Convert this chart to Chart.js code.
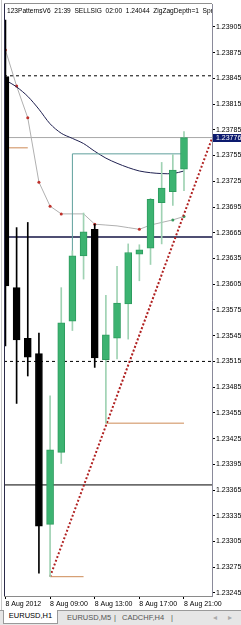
<!DOCTYPE html>
<html>
<head>
<meta charset="utf-8">
<script src="https://cdn.jsdelivr.net/npm/chart.js@4.4.1/dist/chart.umd.min.js"></script>
<style>
  html, body { margin: 0; padding: 0; background: #fff; }
  body { width: 241px; height: 625px; overflow: hidden; font-family: "Liberation Sans", Arial, sans-serif; }
  #wrap { position: relative; width: 241px; height: 610px; }
  #tabs { position: relative; width: 241px; height: 15px; background: #e6e6e6; border-top: 1px solid #9a9a9a; box-sizing: border-box; font-size: 7.5px; }
  #tabs span { position: absolute; top: 2px; color: #555; }
  #tabs .active { top: -1px; left: 3px; width: 55px; height: 14px; background: #fff; border: 1px solid #9a9a9a; border-top: none; box-sizing: border-box; color: #000; text-align: center; line-height: 12px; }
</style>
</head>
<body>
<div id="wrap"><canvas id="chart" width="241" height="610"></canvas></div>
<div id="tabs">
  <span class="active">EURUSD,H1</span>
  <span style="left:67px">EURUSD,M5</span>
  <span style="left:114px">|</span>
  <span style="left:122px">CADCHF,H4</span>
  <span style="left:171px">|</span>
  <span style="left:213px;color:#aaa">&#9666;</span>
  <span style="left:228px;color:#aaa">&#9656;</span>
</div>
<script>
// EURUSD H1, 8 Aug 2012, 05:00 .. 21:00
const hours = ["05:00","06:00","07:00","08:00","09:00","10:00","11:00","12:00","13:00",
               "14:00","15:00","16:00","17:00","18:00","19:00","20:00","21:00"];
const opens  = [1.23847, 1.23601, 1.23542, 1.23524, 1.23325, 1.23409, 1.23562, 1.23638, 1.23669,
                1.23517, 1.23542, 1.23582, 1.23640, 1.23647, 1.23700, 1.23713, 1.23739];
const highs  = [1.23913, 1.23671, 1.23677, 1.23548, 1.23475, 1.23601, 1.23644, 1.23688, 1.23675,
                1.23592, 1.23626, 1.23652, 1.23651, 1.23705, 1.23747, 1.23756, 1.23783];
const lows   = [1.23533, 1.23466, 1.23498, 1.23268, 1.23264, 1.23396, 1.23551, 1.23611, 1.23508,
                1.23443, 1.23518, 1.23541, 1.23609, 1.23628, 1.23652, 1.23697, 1.23714];
const closes = [1.23603, 1.23540, 1.23520, 1.23323, 1.23412, 1.23560, 1.23638, 1.23666, 1.23519,
                1.23546, 1.23583, 1.23642, 1.23645, 1.23704, 1.23717, 1.23738, 1.23776];

// indicator lines
const slowMa = [1.23843, 1.23835, 1.23824, 1.23809, 1.23792, 1.23781, 1.23775, 1.23769, 1.23760,
                1.23752, 1.23746, 1.23741, 1.23737, 1.23735, 1.23734, 1.23734, 1.23737];
const fastMa = [1.23878, 1.23836, 1.23799, 1.23724, 1.23696, 1.23687, 1.23687, 1.23687, 1.23675,
                1.23674, 1.23673, 1.23671, 1.23669, 1.23674, 1.23677, 1.23680, 1.23684];
const redDots = [0, 1, 2, 3, 4, 5, 8, 12];
const greenDots = [15, 16];

// levels
const dashedLevels = [1.23848, 1.23515];
const navyLevel = 1.23660;
const blackLevel = 1.23371;
const orangeSegs = [[0, 2, 1.23764], [4, 7, 1.23264], [9, 16, 1.23443]];
const patternLine = [[6, 1.23638], [6, 1.23757], [16, 1.23757]];
const trendLine = [[4, 1.23264], [18.51, 1.23775]];

const xTickIdx = [0, 4, 8, 12, 16];
const xTickLabels = ["8 Aug 2012", "8 Aug 09:00", "8 Aug 13:00", "8 Aug 17:00", "8 Aug 21:00"];
const yTicks = [1.23245, 1.23275, 1.23305, 1.23335, 1.23365, 1.23395, 1.23425, 1.23455, 1.23485,
                1.23515, 1.23545, 1.23575, 1.23605, 1.23635, 1.23665, 1.23695, 1.23725, 1.23755,
                1.23785, 1.23815, 1.23845, 1.23875, 1.23905];
const title = "123PatternsV6  21:39  SELLSIG  02:00  1.24044  ZigZagDepth=1  Spr";

const xMin = -0.13, xMax = 18.51;
const yMin = 1.232415, yMax = 1.239317;
const FONT = "Liberation Sans";
const GREEN = "#3cb371";

const idx = hours.map((_, i) => i);
const up = idx.map(i => closes[i] >= opens[i]);

function levelLine(price, color, dash, order, width) {
  return {
    type: "line",
    data: [{ x: xMin, y: price }, { x: xMax, y: price }],
    borderColor: color, borderWidth: width || 1, borderDash: dash || [],
    pointRadius: 0, order: order || 8
  };
}

const datasets = [
  {
    type: "bar",
    data: idx.map(i => ({ x: i, y: [opens[i], closes[i]] })),
    backgroundColor: idx.map(i => up[i] ? GREEN : "#000"),
    borderColor: idx.map(i => up[i] ? "#2e9c5f" : "#000"),
    borderWidth: 1, borderSkipped: false,
    barThickness: 7, grouped: false, order: 1
  },
  {
    type: "bar",
    data: idx.map(i => ({ x: i, y: [lows[i], highs[i]] })),
    backgroundColor: idx.map(i => up[i] ? "#9fd2b3" : "#000"),
    barThickness: 1, grouped: false, order: 2
  },
  levelLine(dashedLevels[0], "#000", [3, 3]),
  levelLine(dashedLevels[1], "#000", [3, 3]),
  levelLine(navyLevel, "#141444", null, 8, 1.5),
  levelLine(blackLevel, "#000"),
  levelLine(closes[closes.length - 1], "#a8a8a8", null, 9),
  {
    type: "line",
    data: idx.map(i => ({ x: i, y: slowMa[i] })),
    borderColor: "#1f2050", borderWidth: 1, pointRadius: 0, tension: 0.3, order: 6
  },
  {
    type: "line",
    data: idx.map(i => ({ x: i, y: fastMa[i] })),
    borderColor: "#b0b0b0", borderWidth: 1,
    pointRadius: idx.map(i => redDots.includes(i) || greenDots.includes(i) ? 1.5 : 0),
    pointBackgroundColor: idx.map(i => greenDots.includes(i) ? "#3a9a60" : "#c0302a"),
    pointBorderWidth: 0, order: 6
  },
  {
    type: "line",
    data: patternLine.map(p => ({ x: p[0], y: p[1] })),
    borderColor: "#5f9f9c", borderWidth: 1, pointRadius: 0, order: 5
  },
  ...orangeSegs.map(s => ({
    type: "line",
    data: [{ x: s[0], y: s[2] }, { x: s[1], y: s[2] }],
    borderColor: "#cd8a55", borderWidth: 1, pointRadius: 0, order: 5
  })),
  {
    type: "line",
    data: trendLine.map(p => ({ x: p[0], y: p[1] })),
    borderColor: "#b02020", borderWidth: 2, borderDash: [2, 2], pointRadius: 0, order: 3
  }
];

const frame = {
  id: "frame",
  afterDraw(chart) {
    const { ctx, chartArea: a, scales } = chart;
    ctx.save();
    ctx.strokeStyle = "#c8c8c8";
    ctx.beginPath(); ctx.moveTo(1.5, 0); ctx.lineTo(1.5, 610); ctx.stroke();
    ctx.strokeStyle = "#2a2a48";
    ctx.beginPath(); ctx.moveTo(a.left + 0.5, a.top); ctx.lineTo(a.left + 0.5, a.bottom); ctx.stroke();
    ctx.strokeStyle = "#909090";
    ctx.beginPath(); ctx.moveTo(a.left, a.top - 0.5); ctx.lineTo(a.right, a.top - 0.5); ctx.stroke();

    // title text, fitted so "Spr" meets the price axis, clipped to the plot
    ctx.save();
    ctx.beginPath(); ctx.rect(a.left, a.top, a.right - a.left, a.bottom - a.top); ctx.clip();
    ctx.fillStyle = "#000";
    ctx.font = "7px '" + FONT + "'";
    const w = ctx.measureText(title).width;
    const size = Math.min(7.5, 7 * (a.right - a.left - 2) / w);
    ctx.font = size.toFixed(2) + "px '" + FONT + "'";
    ctx.textBaseline = "alphabetic";
    ctx.fillText(title, a.left + 3, a.top + 9);
    ctx.restore();

    // current price box
    const last = closes[closes.length - 1];
    const y = Math.round(scales.y.getPixelForValue(last));
    ctx.fillStyle = "#0c1a6e";
    ctx.fillRect(a.right + 1, y - 4, 28, 8);
    ctx.fillStyle = "#fff";
    ctx.font = "7px '" + FONT + "'";
    ctx.textBaseline = "middle";
    ctx.fillText(last.toFixed(5), a.right + 4, y + 0.5);
    ctx.restore();
  }
};

new Chart(document.getElementById("chart"), {
  type: "bar",
  data: { datasets },
  options: {
    responsive: false,
    animation: false,
    devicePixelRatio: 1,
    layout: { padding: { left: 4, top: 2, right: 0, bottom: 0 } },
    plugins: { legend: { display: false }, tooltip: { enabled: false } },
    scales: {
      x: {
        type: "linear", min: xMin, max: xMax, offset: false,
        grid: { drawOnChartArea: false, tickLength: 3, color: "#000", offset: false },
        border: { display: true, color: "#8a8a8a" },
        ticks: {
          align: "start", padding: 1, autoSkip: false, maxRotation: 0,
          color: "#000", font: { family: FONT, size: 7 },
          callback: v => xTickLabels[xTickIdx.indexOf(v)]
        },
        afterBuildTicks: s => { s.ticks = xTickIdx.map(v => ({ value: v })); },
        afterFit: s => { s.height = 14; s.paddingLeft = 0; s.paddingRight = 0; }
      },
      y: {
        position: "right", min: yMin, max: yMax,
        grid: { drawOnChartArea: false, tickLength: 3, color: "#000" },
        border: { display: true, color: "#8a8a9a" },
        ticks: {
          padding: 1, color: "#000", font: { family: FONT, size: 7 },
          callback: v => v.toFixed(5)
        },
        afterBuildTicks: s => { s.ticks = yTicks.map(v => ({ value: v })); },
        afterFit: s => { s.width = 29; s.paddingTop = 0; s.paddingBottom = 0; }
      }
    }
  },
  plugins: [frame]
});
</script>
</body>
</html>
